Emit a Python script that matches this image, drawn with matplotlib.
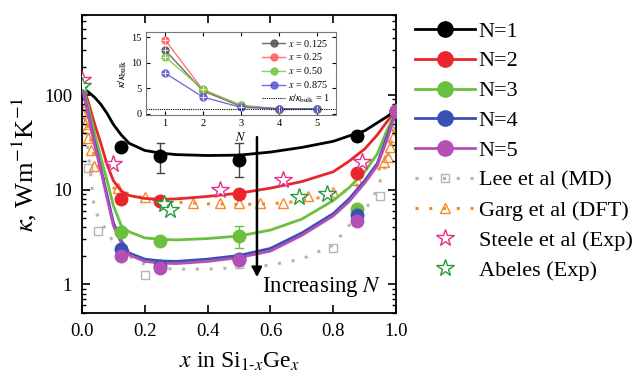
import numpy as np
import matplotlib
matplotlib.use("Agg")
import matplotlib.pyplot as plt
from matplotlib.lines import Line2D

plt.rcParams['font.family'] = ['Liberation Serif', 'DejaVu Serif']
plt.rcParams['mathtext.fontset'] = 'stix'

#%% data
x_fit = [0.0, 0.02, 0.04, 0.06, 0.08, 0.1, 0.125, 0.15, 0.2, 0.25, 0.3, 0.4,
         0.5, 0.6, 0.7, 0.8, 0.85, 0.9, 0.94, 0.97, 1.0]
fit_n1 = [121, 108, 95, 80, 64, 49, 38, 31, 26, 24.4, 23.5, 23, 23.2, 25, 28,
          32.5, 37, 42, 51, 59, 69]
fit_n2 = [134, 85, 50, 31, 18.5, 12.5, 9.7, 8.7, 8.1, 7.9, 8.0, 8.5, 9.2, 10.4,
          12.2, 15.5, 20, 27, 38, 52, 69]
fit_n3 = [128, 75, 40, 22, 12.6, 6.8, 4.2, 3.6, 3.1, 3.0, 2.95, 3.05, 3.25,
          3.75, 4.9, 7.7, 10.5, 15.5, 24, 42, 67]
fit_n4 = [125, 65, 32, 17, 8.8, 4.5, 2.9, 2.15, 1.85, 1.77, 1.75, 1.85, 2.02,
          2.4, 3.5, 5.6, 8.0, 12.5, 19, 36, 67]
fit_n5 = [125, 62, 30, 16, 8.2, 4.2, 2.75, 2.05, 1.75, 1.68, 1.66, 1.75, 1.92,
          2.25, 3.3, 5.3, 7.5, 11.8, 18, 33, 66]

x_pts = [0.125, 0.25, 0.5, 0.875, 1.0]
pts_n1 = [28, 23, 20.5, 37, 68]
pts_n2 = [8.0, 7.6, 9.0, 15, 68]
pts_n3 = [3.55, 2.9, 3.25, 6.2, 68]
pts_n4 = [2.35, 1.55, 1.85, 5.4, 68]
pts_n5 = [2.0, 1.5, 1.8, 4.65, 68]
# error bar ends (low, high)
err_n1_lo = [28, 15, 13.6, 33, 68]
err_n1_hi = [28, 31, 31, 42, 68]
err_n3_lo = [3.55, 2.9, 2.4, 6.2, 68]
err_n3_hi = [3.55, 2.9, 4.1, 6.2, 68]

x_lee_line = [0.0, 0.02, 0.04, 0.065, 0.085, 0.12, 0.16, 0.22, 0.3, 0.4, 0.5,
              0.6, 0.7, 0.8, 0.85, 0.92, 0.96, 1.0]
k_lee_line = [110, 25, 6.1, 4.4, 3.3, 2.4, 1.9, 1.5, 1.45, 1.45, 1.5, 1.6,
              1.85, 2.6, 4.2, 7.4, 15, 55]
x_lee_pts = [0.02, 0.05, 0.2, 0.5, 0.8, 0.95]
k_lee_pts = [16.9, 3.7, 1.25, 1.65, 2.4, 8.5]

x_garg_line = [0.0, 0.02, 0.04, 0.06, 0.08, 0.1, 0.15, 0.2, 0.3, 0.4, 0.5, 0.6,
               0.7, 0.8, 0.85, 0.9, 0.95, 0.98, 1.0]
k_garg_line = [130, 45, 22, 15, 12, 10.5, 9.0, 8.1, 7.4, 7.1, 7.0, 7.1, 7.6,
               8.8, 10, 12.5, 17, 28, 60]
x_garg_pts = [0.005, 0.01, 0.015, 0.02, 0.03, 0.04, 0.115, 0.2, 0.355, 0.44,
              0.5, 0.567, 0.64, 0.72, 0.8, 0.875, 0.96, 0.975, 0.98, 0.99]
k_garg_pts = [64, 50, 45, 35, 26, 18, 10.5, 8.3, 7.2, 7.2, 7.2, 7.2, 7.3, 8.5,
              9.4, 12.6, 19.5, 22, 28, 36]

x_steele = [0.0, 0.1, 0.44, 0.64, 0.89]
k_steele = [145, 18.5, 10, 12.6, 19.5]
x_abeles = [0.0, 0.26, 0.28, 0.69, 0.78]
k_abeles = [125, 7.0, 6.1, 8.3, 9.0]

# inset: kappa / kappa_bulk vs N
n_layers = [1, 2, 3, 4, 5]
ratio_0125 = [12.5, 4.5, 1.5, 1.0, 1.0]
ratio_025 = [14.5, 4.7, 1.7, 1.0, 1.0]
ratio_050 = [11.2, 4.8, 1.7, 0.8, 1.0]
ratio_0875 = [8.0, 3.3, 1.3, 1.0, 1.0]

#%% main plot
fig = plt.figure(figsize=(6.4, 3.77), dpi=100)
ax = fig.add_axes([0.128, 0.170, 0.491, 0.790])

c_lee = '#b5b5b5'
c_garg = '#f58a2c'
ax.plot(x_lee_line, k_lee_line, color=c_lee, lw=2.2, ls=(0, (1, 3.5)), zorder=1)
ax.plot(x_lee_pts, k_lee_pts, ls='none', marker='s', ms=6, mfc='none',
        mec=c_lee, mew=1, zorder=1)
ax.plot(x_garg_line, k_garg_line, color=c_garg, lw=2.2, ls=(0, (1, 3.5)), zorder=1)
ax.plot(x_garg_pts, k_garg_pts, ls='none', marker='^', ms=7, mfc='none',
        mec=c_garg, mew=1, zorder=1)

colors = ['black', '#e8262b', '#6cc040', '#3a50b4', '#b44fb6']
fits = [fit_n1, fit_n2, fit_n3, fit_n4, fit_n5]
pts = [pts_n1, pts_n2, pts_n3, pts_n4, pts_n5]
for c, f, p in zip(colors, fits, pts):
    ax.plot(x_fit, f, color=c, lw=2, zorder=3)
    ax.plot(x_pts, p, ls='none', marker='o', ms=9, color=c, zorder=4)

ax.vlines(x_pts, err_n1_lo, err_n1_hi, color='#444444', lw=1, zorder=2)
ax.vlines(x_pts, err_n3_lo, err_n3_hi, color=colors[2], lw=1, zorder=2)
for xp, lo, hi in zip(x_pts, err_n1_lo, err_n1_hi):
    if hi > lo:
        ax.plot([xp - 0.012, xp + 0.012], [lo, lo], color='#444444', lw=1)
        ax.plot([xp - 0.012, xp + 0.012], [hi, hi], color='#444444', lw=1)
for xp, lo, hi in zip(x_pts, err_n3_lo, err_n3_hi):
    if hi > lo:
        ax.plot([xp - 0.012, xp + 0.012], [lo, lo], color=colors[2], lw=1)
        ax.plot([xp - 0.012, xp + 0.012], [hi, hi], color=colors[2], lw=1)

ax.plot(x_steele, k_steele, ls='none', marker='*', ms=13, mfc='white',
        mec='#e5308c', mew=1, zorder=5)
ax.plot(x_abeles, k_abeles, ls='none', marker='*', ms=13, mfc='white',
        mec='#2a9a3c', mew=1, zorder=5)

ax.annotate('', xy=(0.557, 1.19), xytext=(0.557, 36),
            arrowprops=dict(arrowstyle='-|>', lw=1.8, color='black',
                            mutation_scale=14, shrinkA=0, shrinkB=0))
ax.text(0.573, 0.93, r'Increasing $N$', fontsize=16.5, va='center', ha='left')

ax.set_yscale('log')
ax.set_xlim(0, 1)
ax.set_ylim(0.5, 700)
ax.set_xticks([0.0, 0.2, 0.4, 0.6, 0.8, 1.0])
ax.set_xticklabels(['0.0', '0.2', '0.4', '0.6', '0.8', '1.0'])
ax.set_yticks([1, 10, 100])
ax.set_yticklabels(['1', '10', '100'])
ax.tick_params(which='both', direction='in', top=True, right=True,
               labelsize=13.5, pad=7)
ax.tick_params(which='major', length=6, width=1.2)
ax.tick_params(which='minor', length=3, width=1)
for s in ax.spines.values():
    s.set_linewidth(1.3)
ax.set_xlabel(r'$x$ in Si$_{1\text{-}x}$Ge$_x$', fontsize=17, labelpad=8)
ax.set_ylabel(r'$\kappa$, Wm$^{-1}$K$^{-1}$', fontsize=19, labelpad=4)

#%% legend
handles = [Line2D([], [], color=c, lw=2, marker='o', ms=11) for c in colors]
handles.append(Line2D([], [], color=c_lee, lw=2.2, ls=(0, (1, 3.5)), marker='s',
                      ms=6, mfc='none', mec=c_lee))
handles.append(Line2D([], [], color=c_garg, lw=2.2, ls=(0, (1, 3.5)), marker='^',
                      ms=7, mfc='none', mec=c_garg))
handles.append(Line2D([], [], ls='none', marker='*', ms=13, mfc='white',
                      mec='#e5308c'))
handles.append(Line2D([], [], ls='none', marker='*', ms=13, mfc='white',
                      mec='#2a9a3c'))
labels = ['N=1', 'N=2', 'N=3', 'N=4', 'N=5', 'Lee et al (MD)',
          'Garg et al (DFT)', 'Steele et al (Exp)', 'Abeles (Exp)']
fig.legend(handles, labels, loc='upper left', bbox_to_anchor=(0.635, 0.968),
           frameon=False, fontsize=16, handlelength=2.7, handletextpad=0.15,
           labelspacing=0.42, borderaxespad=0)

#%% inset
ins = fig.add_axes([0.228, 0.695, 0.297, 0.220])
in_colors = ['#555555', '#ff5c5c', '#78c642', '#5a5ad0']
in_labels = [r'$x$ = 0.125', r'$x$ = 0.25', r'$x$ = 0.50', r'$x$ = 0.875']
for c, r, lab in zip(in_colors, [ratio_0125, ratio_025, ratio_050, ratio_0875],
                     in_labels):
    ins.plot(n_layers, r, color=c, lw=1, marker='o', ms=5, mfc=c, mec=c,
             alpha=0.85, label=lab)
    ins.plot(n_layers, r, ls='none', marker='+', ms=5, mew=0.6, color='white')
ins.axhline(1, color='black', lw=0.8, ls=(0, (1, 1)),
            label=r'$\kappa/\kappa_{\rm bulk}$ = 1')
ins.set_xlim(0.5, 5.5)
ins.set_ylim(-0.2, 16)
ins.set_xticks(n_layers)
ins.set_yticks([0, 5, 10, 15])
ins.tick_params(which='both', direction='in', labelsize=7.5, pad=3, length=3,
                top=True, right=True)
for s in ins.spines.values():
    s.set_color('#777777')
ins.set_xlabel(r'$N$', fontsize=9, labelpad=2)
ins.set_ylabel(r'$\kappa/\kappa_{\rm bulk}$', fontsize=8, labelpad=2)
ins.legend(loc='upper right', frameon=False, fontsize=7.3, handlelength=2.3,
           handletextpad=0.3, labelspacing=0.28, borderaxespad=0.15)

fig.savefig('out.png', dpi=100)
